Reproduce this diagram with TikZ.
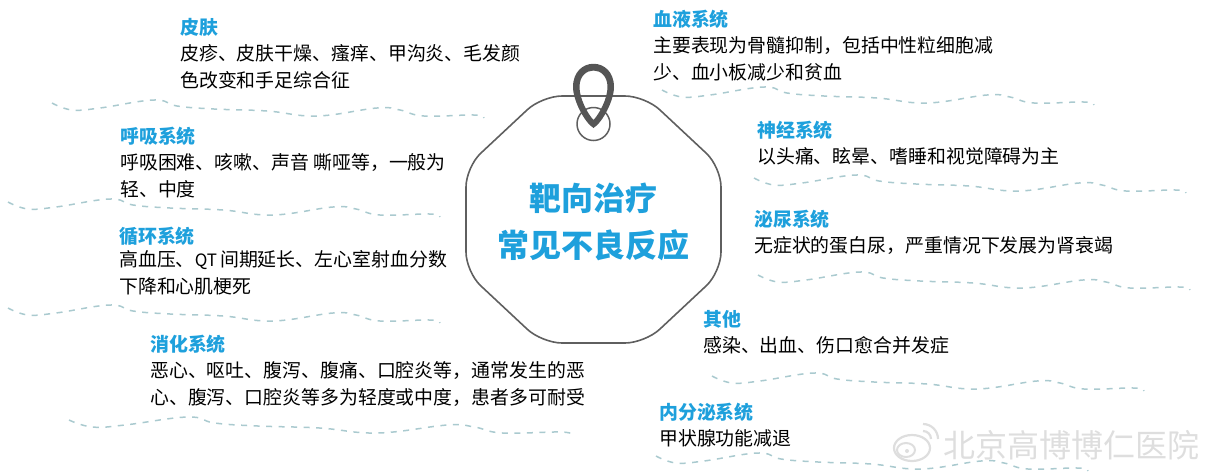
\documentclass[tikz,border=0pt]{standalone}
\usepackage{fontspec}
\setmainfont{Noto Sans CJK SC}
\usepackage{xcolor}
\usetikzlibrary{positioning}
\definecolor{headblue}{RGB}{30, 160, 220}
\definecolor{tagline}{RGB}{95, 95, 95}
\definecolor{waveteal}{RGB}{170, 202, 207}
\definecolor{markgray}{RGB}{222, 222, 222}

\begin{document}
\begin{tikzpicture}[
  x=1pt, y=-1pt,
  node distance=8pt and 0pt,
  head/.style={anchor=west, inner sep=0pt, text=headblue,
    font=\fontsize{18.9}{24}\selectfont\bfseries},
  body/.style={anchor=north west, inner sep=0pt, align=left, text=black,
    font=\fontsize{18.9}{27}\selectfont},
  wavy/.style={draw=waveteal, line width=1.5pt, dash pattern=on 6pt off 6.5pt},
  wave/.pic={
    \draw[wavy] plot[smooth, tension=0.7] coordinates {(0,0) (20,7) (48,5) (102,-3)
      (125,3) (162,6) (215,8) (265,13) (325,5) (348,7) (372,13) (422,12) (432,15)};
  }
]
\useasboundingbox (0,0) rectangle (1208,472);

% tag
\draw[tagline, line width=1.6pt, rounded corners=20pt] (542,96) -- (645,96) -- (721,167)
  -- (721,272) -- (645,343) -- (542,343) -- (466,272) -- (466,167) -- cycle;
\node[draw=tagline, line width=1.5pt, circle, minimum size=33pt, inner sep=0pt] (hole) at (593.5,124) {};
\fill[tagline!90!black, even odd rule] (593.5,128) .. controls (584,122) and (573,100) .. (573,87)
  .. controls (573,56) and (614,56) .. (614,87) .. controls (614,100) and (603,122) .. (593.5,128) -- cycle
  (593.5,120) .. controls (587,113) and (579.5,98) .. (579.5,87)
  .. controls (579.5,65) and (607.5,65) .. (607.5,87) .. controls (607.5,98) and (600,113) .. (593.5,120) -- cycle;
\node[align=center, inner sep=0pt, text=headblue, font=\fontsize{32}{47}\selectfont\bfseries] (title) at (593.5,222) {靶向治疗\\常见不良反应};

% left column
\node[head] (skin) at (180,27) {皮肤};
\node[body, below=of skin.south west, anchor=north west] (skintext) {皮疹、皮肤干燥、瘙痒、甲沟炎、毛发颜\\色改变和手足综合征};
\node[head] (resp) at (120,136) {呼吸系统};
\node[body, below=of resp.south west, anchor=north west] (resptext) {呼吸困难、咳嗽、声音 嘶哑等，一般为\\轻、中度};
\node[head] (circ) at (119,236) {循环系统};
\node[body, below=of circ.south west, anchor=north west, yshift=3pt] (circtext) {高血压、{\fontsize{17}{27}\selectfont QT}\hspace{3pt}间期延长、左心室射血分数\\下降和心肌梗死};
\node[head] (digest) at (150,344) {消化系统};
\node[body, below=of digest.south west, anchor=north west] (digesttext) {恶心、呕吐、腹泻、腹痛、口腔炎等，通常发生的恶\\心、腹泻、口腔炎等多为轻度或中度，患者多可耐受};

% right column
\node[head] (blood) at (653,19) {血液系统};
\node[body, below=of blood.south west, anchor=north west] (bloodtext) {主要表现为骨髓抑制，包括中性粒细胞减\\少、血小板减少和贫血};
\node[head] (nerve) at (757,130) {神经系统};
\node[body, below=of nerve.south west, anchor=north west] (nervetext) {以头痛、眩晕、嗜睡和视觉障碍为主};
\node[head] (urine) at (754,219) {泌尿系统};
\node[body, below=of urine.south west, anchor=north west] (urinetext) {无症状的蛋白尿，严重情况下发展为肾衰竭};
\node[head] (other) at (703,319) {其他};
\node[body, below=of other.south west, anchor=north west] (othertext) {感染、出血、伤口愈合并发症};
\node[head] (endo) at (659,412) {内分泌系统};
\node[body, below=of endo.south west, anchor=north west] (endotext) {甲状腺功能减退};

% dividers
\pic at (52,103) {wave};
\pic at (8,202) {wave};
\pic at (8,308) {wave};
\pic[xscale=1.165] at (69,420) {wave};
\pic at (662,90) {wave};
\pic at (754,178) {wave};
\pic at (758,275) {wave};
\pic at (712,376) {wave};
\pic at (656,456) {wave};

% watermark
\draw[markgray, line width=2.2pt] (912,448) ellipse (18pt and 13pt);
\draw[markgray, line width=2pt] (906,450) ellipse (9pt and 7pt);
\fill[markgray] (907,451) circle (2pt);
\draw[markgray, line width=2.2pt] (923,431) arc (90:0:8pt);
\draw[markgray, line width=2.2pt] (923,424) arc (90:0:15pt);
\node[anchor=west, inner sep=0pt, text=markgray, font=\fontsize{32}{38}\selectfont] (mark) at (943,445) {北京高博博仁医院};
\end{tikzpicture}
\end{document}
